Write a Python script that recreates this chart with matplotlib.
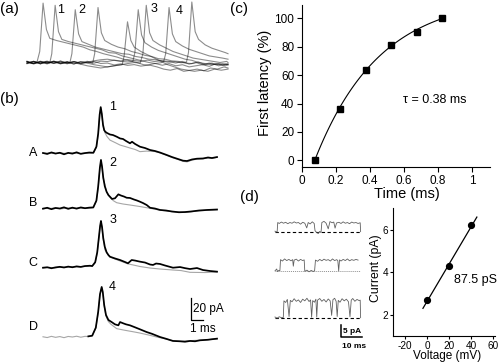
import numpy as np
import matplotlib
matplotlib.use('Agg')
import matplotlib.pyplot as plt

plt.rcParams['font.family'] = ['Liberation Sans', 'DejaVu Sans']
plt.rcParams['axes.unicode_minus'] = False

# ---------------- data ----------------
# (a) overlaid sweeps: time (ms), current (pA)
a_t1 = [0, 0.4, 0.75, 0.95, 1.2, 1.45, 1.7, 2.2, 2.7, 3.2, 3.7, 4.2, 4.7, 5.2, 5.7, 6.2, 6.7, 7.2, 7.7, 8.2, 8.7, 9.2, 9.7, 10.2, 10.7, 11.2, 11.7, 12.2, 12.7, 13.2, 13.7, 14.2, 14.7, 15]
a_i1 = [0.8, -1.0, 0.5, 10, 54, 30, 22, 20, 18.5, 17, 15.5, 14, 11.5, 10, 8, 6.5, 5, 3, 1.5, 0, -2, -2.5, -4, -6, -7, -5.5, -8, -7, -6, -7.5, -5, -6, -4, -5]
a_t2 = [0, 0.5, 1.0, 1.4, 1.7, 1.85, 2.1, 2.35, 2.6, 3.1, 3.6, 4.1, 4.6, 5.1, 5.6, 6.1, 6.6, 7.1, 7.6, 8.1, 8.6, 9.1, 9.6, 10.1, 10.6, 11.1, 11.6, 12.1, 12.6, 13.1, 13.6, 14.1, 14.6, 15]
a_i2 = [-0.6, 1.1, -1.2, 0.9, -0.4, 8, 52, 28, 21, 19, 17.5, 16, 14.5, 13, 11.5, 9, 8.5, 6, 4.5, 3, 1.5, 0, -1, -2.5, -1, -3, -2, -4, -3, -2, -3.5, -1, -2.5, -1]
a_t3 = [0, 0.5, 1.0, 1.5, 2.0, 2.5, 3.0, 3.2, 3.35, 3.6, 3.85, 4.1, 4.6, 5.1, 5.6, 6.1, 6.6, 7.1, 7.6, 8.1, 8.6, 9.1, 9.6, 10.1, 10.6, 11.1, 11.6, 12.1, 12.6, 13.1, 13.6, 14.1, 14.6, 15]
a_i3 = [1.2, -0.8, 0.6, -1.3, 1.0, -0.5, 0.8, -0.2, 8, 48, 26, 19, 16.5, 14, 12.5, 11, 9.5, 8, 7.5, 5.5, 4.5, 3, 2.5, 1.5, 1, -0.5, 1, -1.5, 0, -2, -0.5, -2, -1, -2]
a_t4 = [0, 0.5, 1.0, 1.5, 2.0, 2.5, 3.0, 3.5, 4.0, 4.5, 4.9, 5.05, 5.3, 5.55, 5.8, 6.3, 6.8, 7.3, 7.8, 8.3, 8.8, 9.3, 9.8, 10.3, 10.8, 11.3, 11.8, 12.3, 12.8, 13.3, 13.8, 14.3, 14.8, 15]
a_i4 = [-1.1, 0.7, -0.4, 1.3, -0.9, 0.4, -1.2, 0.9, -0.3, 1.1, -0.6, 8, 50, 27, 20, 16.5, 14, 12.5, 10, 8.5, 6.5, 5.5, 3.5, 3, 1.5, 1, -0.5, -1, 0.5, -2, -0.5, -3, -1.5, -2]
a_t5 = [0, 0.5, 1.0, 1.5, 2.0, 2.5, 3.0, 3.5, 4.0, 4.5, 5.0, 5.5, 6.0, 6.5, 7.1, 7.25, 7.5, 7.75, 8.0, 8.5, 9.0, 9.5, 10.0, 10.5, 11.0, 11.5, 12.0, 12.5, 13.0, 13.5, 14.0, 14.5, 15]
a_i5 = [0.9, -1.3, 0.5, -0.7, 1.2, -1.0, 0.3, -1.4, 0.8, -0.5, -2, -3, -4, -3, -2, 6, 37, 20, 14, 10, 7, 4, 1, -2, -4, -6, -7, -8, -7, -8, -6, -7, -6]
a_t6 = [0, 0.5, 1.0, 1.5, 2.0, 2.5, 3.0, 3.5, 4.0, 4.5, 5.0, 5.5, 6.0, 6.5, 7.0, 7.5, 7.9, 8.05, 8.3, 8.55, 8.8, 9.3, 9.8, 10.3, 10.8, 11.3, 11.8, 12.3, 12.8, 13.3, 13.8, 14.3, 14.8, 15]
a_i6 = [-0.5, 1.0, -1.1, 0.6, -0.8, 1.3, -0.4, 0.9, -1.2, 0.3, 1.5, 2.5, 3, 2, 1, 0.5, 1, 9, 48, 25, 18, 14, 11, 9, 7, 5, 3, 2, 0, -1, -2, -1, -3, -2]
a_t7 = [0, 0.5, 1.0, 1.5, 2.0, 2.5, 3.0, 3.5, 4.0, 4.5, 5.0, 5.5, 6.0, 6.5, 7.0, 7.5, 8.0, 8.45, 8.65, 8.9, 9.15, 9.4, 9.9, 10.4, 10.9, 11.4, 11.9, 12.4, 12.9, 13.4, 13.9, 14.4, 14.9, 15]
a_i7 = [0.4, -0.9, 1.2, -0.6, 0.8, -1.3, 0.5, -0.2, -1.5, -3, -4, -5, -4, -3, -2, -1, 0, -0.5, 8, 52, 27, 20, 16, 13, 10, 8, 6, 4, 3, 2, 1, 0, 1, 0]
a_t8 = [0, 0.5, 1.0, 1.5, 2.0, 2.5, 3.0, 3.5, 4.0, 4.5, 5.0, 5.5, 6.0, 6.5, 7.0, 7.5, 8.0, 8.5, 9.0, 9.5, 10.0, 10.2, 10.35, 10.6, 10.85, 11.1, 11.6, 12.1, 12.6, 13.1, 13.6, 14.1, 14.6, 15]
a_i8 = [0.6, -1.1, 0.9, -0.4, 1.2, -0.8, 0.3, -1.3, 0.7, -0.2, 1.0, -0.9, -0.5, -2.2, -1.2, -2.6, -1.9, -3.3, -2.4, -1.0, -0.2, 1, 8, 50, 26, 19, 15, 12, 10, 8, 6, 5, 4, 3]
a_t9 = [0, 0.5, 1.0, 1.5, 2.0, 2.5, 3.0, 3.5, 4.0, 4.5, 5.0, 5.5, 6.0, 6.5, 7.0, 7.5, 8.0, 8.5, 9.0, 9.5, 10.0, 10.5, 11.0, 11.5, 11.9, 12.05, 12.3, 12.55, 12.8, 13.3, 13.8, 14.3, 14.8, 15]
a_i9 = [-0.7, 1.0, -1.2, 0.5, -0.3, 1.3, -0.9, 0.8, -1.1, 0.4, -0.6, 1.2, 0.9, 2.1, 1.4, 2.6, 1.8, 1.0, 2.2, 0.9, 1.5, 0.3, 0.8, -0.2, 0.4, 9, 55, 28, 21, 16, 13, 11, 9, 8]
a_labels = ['1', '2', '3', '4']

# (b) traces A-D: black and grey
bA_t_black = [0, 0.35, 0.7, 1.05, 1.4, 1.75, 2.1, 2.45, 2.8, 3.15, 3.5, 3.85, 4.2, 4.45, 4.6, 4.72, 4.81, 4.9, 5.0, 5.1, 5.2, 5.33, 5.58, 5.83, 6.14, 6.42, 6.67, 6.92, 7.25, 7.42, 7.67, 8.08, 8.5, 8.92, 9.33, 9.75, 10.3, 10.75, 11.25, 11.67, 12.0, 12.42, 12.83, 13.33, 13.75, 14.08, 14.5]
bA_i_black = [0.3, -0.6, 0.8, -0.2, 0.5, -0.9, 0.4, -0.3, 0.9, -0.5, 0.2, 0.7, 0.5, 6, 18, 35, 42, 36, 26, 21, 19.5, 18.5, 17.1, 16.6, 15.1, 13.5, 13.0, 11.2, 9.1, 10.5, 8.5, 6.0, 4.8, 3.0, 2.1, 0.7, -1.5, -3.4, -5.2, -6.7, -7.0, -5.6, -4.9, -4.7, -3.8, -4.3, -3.4]
bA_t_gray = [0, 0.5, 1.0, 1.5, 2.0, 2.5, 3.0, 3.5, 4.0, 4.2, 4.45, 4.6, 4.72, 4.81, 4.9, 5.0, 5.17, 5.33, 5.58, 6.0, 6.42, 6.83, 7.25, 7.67, 8.08, 8.64, 9.33, 9.75, 10.3, 10.75, 11.25, 11.67, 12.0, 12.42, 12.83, 13.33, 13.75, 14.08, 14.5]
bA_i_gray = [0.0, 0.4, -0.4, 0.3, -0.2, 0.5, -0.3, 0.2, 0.1, 0.4, 5.5, 17, 34, 41, 35, 25, 18.5, 15.3, 12.0, 9.8, 7.5, 6.2, 4.8, 3.5, 1.5, 2.0, 1.6, 0.4, -1.8, -3.8, -5.6, -7.3, -7.8, -6.2, -5.3, -5.0, -4.2, -4.6, -3.7]

bB_t_black = [0, 0.35, 0.7, 1.05, 1.4, 1.75, 2.1, 2.45, 2.8, 3.15, 3.5, 3.85, 4.19, 4.45, 4.6, 4.74, 4.83, 4.92, 5.02, 5.15, 5.3, 5.45, 5.58, 5.75, 6.0, 6.28, 6.5, 6.75, 6.97, 7.25, 7.58, 7.83, 8.08, 8.33, 8.64, 8.92, 9.33, 9.75, 10.25, 10.75, 11.33, 11.83, 12.33, 13.0, 13.67, 14.5]
bB_i_black = [-0.4, 0.5, -0.8, 0.3, -0.2, 0.9, -0.5, 0.6, -0.3, 0.8, 0.1, 0.6, 0.8, 7, 20, 37, 44, 38, 28, 20, 15, 12, 10.5, 8.5, 9.1, 12.7, 11.6, 10.7, 9.6, 9.4, 8.0, 7.1, 6.0, 4.8, 3.0, 0.5, -0.2, -1.5, -2.0, -2.9, -3.6, -3.4, -2.9, -2.0, -1.5, -1.1]
bB_t_gray = [0, 0.5, 1.0, 1.5, 2.0, 2.5, 3.0, 3.5, 4.0, 4.19, 4.45, 4.6, 4.74, 4.83, 4.92, 5.02, 5.17, 5.3, 5.58, 5.85, 6.14, 6.67, 7.25, 8.08, 8.92, 9.75, 10.75, 11.83, 13.0, 14.5]
bB_i_gray = [0.2, -0.3, 0.4, -0.5, 0.3, -0.1, 0.4, -0.2, 0.3, 0.6, 6.5, 19, 36, 43, 37, 27, 21, 15, 10.3, 7.0, 5.1, 3.9, 3.0, 1.6, 0.0, -1.7, -3.1, -3.8, -2.3, -1.3]

bC_t_black = [0, 0.35, 0.7, 1.05, 1.4, 1.75, 2.1, 2.45, 2.8, 3.15, 3.5, 3.92, 4.1, 4.35, 4.52, 4.66, 4.76, 4.83, 4.92, 5.02, 5.15, 5.3, 5.45, 5.58, 6.0, 6.42, 6.83, 7.08, 7.39, 7.67, 8.08, 8.5, 8.92, 9.17, 9.42, 9.75, 10.17, 10.83, 11.42, 11.83, 12.25, 12.83, 13.33, 13.92, 14.5]
bC_i_black = [0.0, 0.4, -0.5, 0.3, 0.8, 0.2, 1.0, 0.4, 1.2, 0.7, 1.5, 1.8, 1.5, 5, 14, 28, 38, 42.5, 37, 27, 19, 14, 11.5, 10, 8.4, 7.0, 5.2, 4.0, 7.0, 6.5, 5.5, 4.7, 2.9, 2.5, 3.8, 3.4, 2.0, 0.0, 0.6, -0.4, -1.2, -0.3, -2.1, -3.0, -3.6]
bC_t_gray = [0, 0.5, 1.0, 1.5, 2.0, 2.5, 3.0, 3.5, 3.92, 4.1, 4.35, 4.52, 4.66, 4.76, 4.83, 4.92, 5.02, 5.17, 5.58, 6.42, 7.08, 7.5, 8.08, 8.92, 9.75, 10.83, 11.5, 12.25, 13.5, 14.5]
bC_i_gray = [-0.3, 0.3, -0.2, 0.6, 0.4, 0.9, 0.8, 1.3, 1.5, 1.3, 4.5, 13.5, 27, 37, 41.5, 36, 26, 16, 9.7, 6.1, 3.5, 2.5, 1.1, -0.3, -1.2, -2.1, -2.6, -4.2, -4.4, -3.9]

bD_t_black = [3.78, 4.1, 4.4, 4.6, 4.75, 4.89, 4.98, 5.1, 5.25, 5.45, 5.72, 6.0, 6.28, 6.42, 6.67, 6.92, 7.25, 7.67, 8.08, 8.64, 9.08, 9.75, 10.25, 10.83, 11.42, 11.83, 12.25, 12.67, 13.08, 13.75, 14.1, 14.5]
bD_i_black = [0.6, 1.2, 8.5, 23, 39, 45.5, 41, 29, 20, 15.5, 13.6, 11.5, 10.6, 13.6, 12.5, 11.5, 10.6, 8.8, 7.0, 4.5, 2.9, 0.0, -1.6, -3.6, -3.9, -4.3, -3.6, -3.9, -3.0, -2.5, -2.0, -1.5]
bD_t_gray = [0, 0.35, 0.7, 1.05, 1.4, 1.75, 2.1, 2.45, 2.8, 3.15, 3.5, 3.78, 4.1, 4.4, 4.6, 4.75, 4.89, 4.98, 5.1, 5.25, 5.45, 5.67, 6.14, 6.83, 7.5, 8.08, 8.92, 9.47, 10.25, 10.83, 11.42, 12.25, 13.08, 13.75, 14.5]
bD_i_gray = [0.2, -0.5, 0.6, -0.3, 0.4, -0.6, 0.5, 0.0, 0.7, -0.2, 0.6, 0.4, 1.0, 8, 22, 38, 45, 40, 28, 19, 14, 11.5, 7.6, 6.1, 4.8, 3.6, 1.5, 0.0, -1.8, -3.4, -3.9, -3.3, -2.9, -2.4, -1.7]

b_names = ['A', 'B', 'C', 'D']
b_numbers = ['1', '2', '3', '4']

# (c) first latency
lat_time = [0.075, 0.225, 0.375, 0.525, 0.675, 0.825]
lat_pct = [0, 36.5, 63.5, 81.5, 90.5, 100]
tau_fit = 0.38      # ms
fit_amp = 116.0     # %

# (d) single-channel traces (ms, pA)
d_t1 = [0, 1.0, 1.3, 2, 3, 4, 5, 6, 7, 8, 9, 10, 11, 12, 13, 14, 14.9, 15.6, 16.5, 17.5, 18.4, 18.8, 19.5, 20.3, 21.0, 21.6, 22.0, 23, 24, 25, 25.8, 26.8, 27.6, 28.2, 28.9, 30, 31, 32, 33, 34, 35, 36, 37, 38, 39, 40, 40.2]
d_i1 = [0.2, -0.2, 3.9, 3.5, 4.1, 3.6, 4.0, 3.4, 3.9, 3.6, 4.2, 3.7, 3.9, 3.2, 4.0, 3.6, 1.6, 3.9, 3.3, 4.2, 3.5, 0.4, -0.3, -0.8, 0.1, -0.4, 3.9, 4.4, 3.6, 1.2, 4.3, 3.8, 4.1, 1.5, 3.7, 4.0, 3.5, 4.2, 3.6, 3.9, 3.4, 4.1, 3.7, 3.9, 3.5, 3.8, 0.0]
d_t2 = [0, 0.8, 1.2, 1.8, 2.3, 2.6, 3.5, 4.5, 5.5, 6.5, 7.5, 8.3, 8.6, 9.0, 10, 11, 12, 13, 13.7, 14.0, 15, 16, 17, 18, 18.6, 19.0, 20, 21, 22, 23, 24, 25, 26, 27, 28, 29, 29.5, 29.9, 30.3, 31, 32, 33, 34, 35, 36, 37, 38, 39]
d_i2 = [0, 0.8, -0.3, 0.2, 0.1, 4.8, 4.2, 5.1, 4.4, 4.9, 4.3, 4.8, 2.0, 4.6, 5.0, 4.2, 4.9, 4.4, 4.7, -0.2, 0.3, -0.4, 0.2, -0.3, 0.1, 4.6, 4.1, 4.9, 4.3, 5.0, 4.5, 4.8, 4.2, 5.1, 4.4, 4.8, 4.3, 0.0, 4.7, 4.2, 4.9, 4.4, 5.1, 4.3, 4.8, 4.5, 4.9, 4.6]
d_t3 = [0, 1, 2, 3, 3.9, 4.2, 5, 5.8, 6.6, 7.2, 8, 9, 10, 11, 12, 13, 14, 15, 16, 16.7, 17.2, 17.7, 18.5, 19.2, 19.6, 20.0, 21, 22, 23, 24, 25, 25.9, 26.6, 27.2, 28, 28.7, 29.2, 29.7, 30.5, 31.5, 32.5, 33.5, 34.5, 35.2, 35.8, 36.5, 37.5, 38.5, 39.5, 40, 40.2]
d_i3 = [0.3, -0.2, 0.4, 0.0, 0.1, 7.2, 6.5, 7.8, 0.5, 7.4, 6.8, 8.1, 7.0, 7.6, 6.5, 7.9, 7.2, 8.3, 6.9, 7.6, 0.2, 7.3, 6.6, 7.9, 0.3, 7.5, 8.2, 7.0, 7.8, 6.7, 8.0, 7.2, 1.0, 7.7, 8.3, 7.0, 0.5, 7.4, 6.6, 8.1, 7.2, 7.9, 6.8, 0.4, 7.5, 8.2, 7.0, 7.8, 7.3, 7.5, 0.0]
d_closed_span = [0, 40]

# (d) I-V
volt = [0, 20, 40]
curr = [2.7, 4.3, 6.2]
conductance_label = '87.5 pS'

# ---------------- layout ----------------
W, H = 500, 363
fig = plt.figure(figsize=(5, 3.63), dpi=100)


def px_axes(x0, y0, x1, y1):
    return fig.add_axes([x0 / W, (H - y1) / H, (x1 - x0) / W, (y1 - y0) / H])


def ptext(x, y, s, **kw):
    fig.text(x / W, 1 - y / H, s, **kw)


# (a)
axA = px_axes(20, 0, 235, 75)
axA.set_xlim(-0.522, 15.522)
axA.set_ylim(-11.36, 56.82)
axA.axis('off')
for t, i in [(a_t1, a_i1), (a_t2, a_i2), (a_t3, a_i3), (a_t4, a_i4), (a_t5, a_i5),
             (a_t6, a_i6), (a_t7, a_i7), (a_t8, a_i8), (a_t9, a_i9)]:
    axA.plot(t, i, color='k', alpha=0.45, lw=0.8)
for (x, y), s in zip([(2.5, 47.5), (4.1, 47.5), (9.45, 48.3), (11.35, 46.8)], a_labels):
    axA.text(x, y, s, fontsize=9, ha='center', va='center')

# (b)
axB = px_axes(30, 95, 230, 345)
axB.set_xlim(-1.0833, 15.583)
axB.set_ylim(-7.27, 220)
axB.axis('off')
offsets = [167, 117, 63, 0]
traces_b = [(bA_t_gray, bA_i_gray, bA_t_black, bA_i_black),
            (bB_t_gray, bB_i_gray, bB_t_black, bB_i_black),
            (bC_t_gray, bC_i_gray, bC_t_black, bC_i_black),
            (bD_t_gray, bD_i_gray, bD_t_black, bD_i_black)]
name_y = [167.5, 121.8, 67.3, 9.4]
num_y = [209, 158, 106, 45.5]
for (tg, ig, tb, ib), off, nm, ny, num, nuy in zip(traces_b, offsets, b_names, name_y, b_numbers, num_y):
    axB.plot(tg, np.array(ig) + off, color='#a6a6a6', lw=0.8)
    axB.plot(tb, np.array(ib) + off, color='k', lw=1.25)
    axB.text(-0.83, ny, nm, fontsize=9, ha='center', va='center')
    axB.text(5.8, nuy, num, fontsize=9, ha='center', va='center')
# scale bar 20 pA / 1 ms
sb_t, sb_i = 12.33, 15.5
axB.plot([sb_t, sb_t, sb_t + 1], [sb_i + 20, sb_i, sb_i], color='k', lw=0.9)
axB.text(sb_t + 0.2, sb_i + 10, '20 pA', fontsize=8.5, ha='left', va='center')
axB.text(sb_t + 1.0, sb_i - 8.0, '1 ms', fontsize=8.5, ha='center', va='center')

# (c)
axC = px_axes(302, 5, 490, 167)
axC.set_xlim(0, 1.106)
axC.set_ylim(-4.7, 109.4)
for s in ['top', 'right']:
    axC.spines[s].set_visible(False)
for s in ['left', 'bottom']:
    axC.spines[s].set_linewidth(0.8)
tfit = np.linspace(lat_time[0], lat_time[-1], 100)
axC.plot(tfit, fit_amp * (1 - np.exp(-(tfit - lat_time[0]) / tau_fit)), color='k', lw=0.8)
axC.plot(lat_time, lat_pct, 's', color='k', ms=4.2)
axC.set_xticks([0, 0.2, 0.4, 0.6, 0.8, 1.0])
axC.set_xticklabels(['0', '0.2', '0.4', '0.6', '0.8', '1'])
axC.set_yticks([0, 20, 40, 60, 80, 100])
axC.tick_params(direction='out', length=3.3, width=0.8, labelsize=8.5, pad=2.2)
axC.set_xlabel('Time (ms)', fontsize=10.5)
axC.set_ylabel('First latency (%)', fontsize=10.5)
axC.xaxis.set_label_coords(0.56, -0.125)
axC.yaxis.set_label_coords(-0.16, 0.52)
axC.text(0.78, 42.3, 'τ = 0.38 ms', fontsize=9, ha='center', va='center')

# (d) traces
axT = px_axes(265, 210, 375, 350)
axT.set_xlim(-4.69, 46.95)
axT.set_ylim(-13.8, 46.0)
axT.axis('off')
d_offsets = [36.75, 20.0, 0.0]
d_base_styles = [dict(color='k', ls=(0, (3, 2.2)), lw=0.8),
                 dict(color='#909090', ls=(0, (1, 1)), lw=0.7),
                 dict(color='k', ls=(0, (3, 2.2)), lw=0.8)]
for (t, i), off, st in zip([(d_t1, d_i1), (d_t2, d_i2), (d_t3, d_i3)], d_offsets, d_base_styles):
    axT.plot(d_closed_span, [off, off], **st)
    axT.plot(t, np.array(i) + off, color='#606060', lw=0.6)
sbx, sby = 30.8, -8.1
axT.plot([sbx, sbx, sbx + 10], [sby + 5, sby, sby], color='k', lw=1.1)
axT.text(sbx + 1.0, sby + 2.4, '5 pA', fontsize=6, fontweight='bold', ha='left', va='center')
axT.text(sbx + 6.5, sby - 4.4, '10 ms', fontsize=6, fontweight='bold', ha='center', va='center')

# (d) I-V
axD = px_axes(392.7, 208.3, 495, 336)
axD.set_xlim(-31.5, 61.5)
axD.set_ylim(1, 7)
for s in ['top', 'right']:
    axD.spines[s].set_visible(False)
for s in ['left', 'bottom']:
    axD.spines[s].set_linewidth(0.8)
slope, icpt = np.polyfit(volt, curr, 1)
vline = np.array([-4, 45])
axD.plot(vline, slope * vline + icpt, color='k', lw=0.9)
axD.plot(volt, curr, 'o', color='k', ms=4.2)
axD.set_xticks([-20, 0, 20, 40, 60])
axD.set_yticks([2, 4, 6])
axD.tick_params(direction='out', length=2.2, width=0.8, labelsize=7.2)
axD.tick_params(axis='x', pad=1.2)
axD.tick_params(axis='y', pad=0.8)
axD.set_xlabel('Voltage (mV)', fontsize=8.5)
axD.set_ylabel('Current (pA)', fontsize=8.8)
axD.xaxis.set_label_coords(0.528, -0.112)
axD.yaxis.set_label_coords(-0.10, 0.53)
axD.text(43.4, 3.65, conductance_label, fontsize=9, ha='center', va='center')

# panel labels
ptext(0, 8.5, '(a)', fontsize=11, ha='left', va='center')
ptext(0, 99, '(b)', fontsize=11, ha='left', va='center')
ptext(230, 9, '(c)', fontsize=11, ha='left', va='center')
ptext(240, 197.5, '(d)', fontsize=11, ha='left', va='center')

fig.savefig('out.png', dpi=100)
